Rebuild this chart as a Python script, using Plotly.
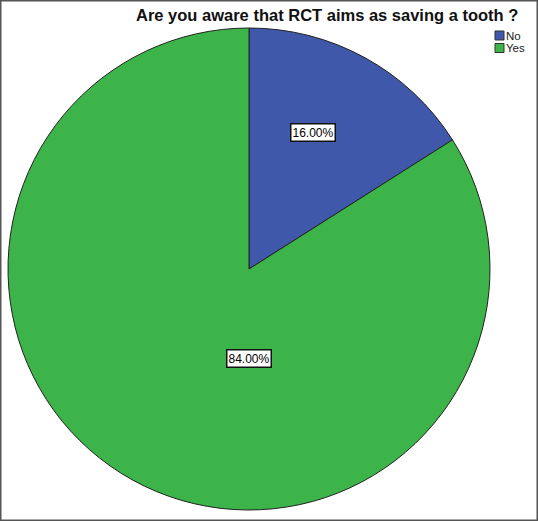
import math
import plotly.graph_objects as go

labels = ["No", "Yes"]
values = [16.0, 84.0]
colors = ["#3f58aa", "#3cb44a"]
title_text = "Are you aware that RCT aims as saving a tooth ?"

W, H = 538, 521
# pie box in pixels
px0, px1 = 8, 490
py0, py1 = 28, 510
cx, cy = (px0 + px1) / 2, (py0 + py1) / 2
R = (px1 - px0) / 2

FONT = "Arial, Liberation Sans, sans-serif"

fig = go.Figure()
fig.add_trace(go.Pie(
    labels=labels, values=values, sort=False, direction="clockwise", rotation=0,
    marker=dict(colors=colors, line=dict(color="#222222", width=1)),
    textinfo="none", hoverinfo="label+percent", showlegend=False,
    domain=dict(x=[px0 / W, px1 / W], y=[1 - py1 / H, 1 - py0 / H]),
))

# boxed percentage labels, placed near each slice's mid angle
label_frac = [0.627, 0.37]
label_shift = [-3.8, -28.8]  # degrees, SPSS-style placement
total = sum(values)
start = 0
for i, v in enumerate(values):
    mid = start + v / total * 360 / 2 + label_shift[i]
    start += v / total * 360
    a = math.radians(mid)
    x = cx + label_frac[i] * R * math.sin(a)
    y = cy - label_frac[i] * R * math.cos(a)
    fig.add_annotation(
        x=x / W, y=1 - y / H, xref="paper", yref="paper",
        xanchor="center", yanchor="middle",
        text="%.2f%%" % (v / total * 100), showarrow=False,
        font=dict(family=FONT, size=12, color="black"),
        bgcolor="white", bordercolor="#111111", borderwidth=1.5, borderpad=1,
    )

# title
fig.add_annotation(
    x=520 / W, y=1 - 15 / H, xref="paper", yref="paper", xanchor="right", yanchor="middle",
    text="<b>%s</b>" % title_text, showarrow=False,
    font=dict(family=FONT, size=16.5, color="#111111"),
)

# compact SPSS-like legend
lx, ly, step = 495, 31, 12.5
for i, name in enumerate(labels):
    y0 = ly + i * step
    fig.add_shape(type="rect", xref="paper", yref="paper",
                  x0=lx / W, x1=(lx + 9) / W, y0=1 - y0 / H, y1=1 - (y0 + 9) / H,
                  fillcolor=colors[i], line=dict(color="#333333", width=1))
    fig.add_annotation(x=(lx + 10) / W, y=1 - (y0 + 4.5) / H, xref="paper", yref="paper",
                       xanchor="left", yanchor="middle", text=name, showarrow=False,
                       borderpad=0,
                       font=dict(family=FONT, size=11.5, color="#222222"))

# outer frame
fig.add_shape(type="rect", xref="paper", yref="paper", x0=0, y0=0, x1=1, y1=1,
              line=dict(color="#555555", width=3))

fig.update_layout(
    width=W, height=H, margin=dict(l=0, r=0, t=0, b=0, autoexpand=False),
    paper_bgcolor="white", plot_bgcolor="white", showlegend=False,
)

fig.write_html("out.html", config={"displayModeBar": False},
               post_script="document.body.style.margin='0';")
